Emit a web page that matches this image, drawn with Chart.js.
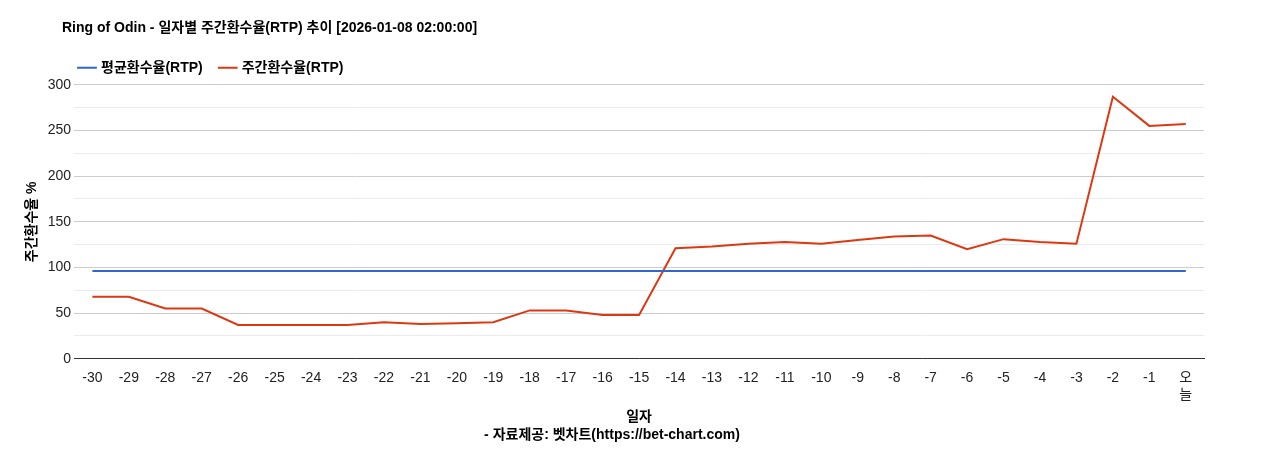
<!DOCTYPE html>
<html>
<head>
<meta charset="utf-8">
<script src="https://cdn.jsdelivr.net/npm/chart.js@4/dist/chart.umd.min.js"></script>
<style>
  html, body { margin: 0; padding: 0; background: #fff; }
  #wrap { width: 1268px; height: 450px; }
</style>
</head>
<body>
<div id="wrap"><canvas id="rtpChart"></canvas></div>
<script>
const dayLabels = ['-30','-29','-28','-27','-26','-25','-24','-23','-22','-21','-20','-19','-18','-17','-16','-15','-14','-13','-12','-11','-10','-9','-8','-7','-6','-5','-4','-3','-2','-1',['오','늘']];
const weeklyRtp = [68,68,55,55,37,37,37,37,40,38,39,40,53,53,48,48,121,123,126,128,126,130,134,135,120,131,128,126,287,255,257];
const avgRtp = dayLabels.map(() => 96);

const FONT = "'Liberation Sans', Arial, 'Noto Sans CJK KR', sans-serif";
Chart.defaults.font.family = FONT;
Chart.defaults.color = '#222';

// shift title and legend to line up with the plot's left edge
const alignHeader = {
    id: 'alignHeader',
    afterLayout(chart) {
        const dx = 42;
        [chart.titleBlock, chart.legend].forEach(b => { if (b) { b.left += dx; b.right += dx; } });
    }
};

const ctx = document.getElementById('rtpChart').getContext('2d');
new Chart(ctx, {
    type: 'line',
    data: {
        labels: dayLabels,
        datasets: [
            { label: '평균환수율(RTP)', data: avgRtp, borderColor: '#3366cc', backgroundColor: '#3366cc', borderWidth: 2, pointRadius: 0, tension: 0 },
            { label: '주간환수율(RTP)', data: weeklyRtp, borderColor: '#dc3912', backgroundColor: '#dc3912', borderWidth: 2, pointRadius: 0, tension: 0 }
        ]
    },
    options: {
        responsive: true,
        maintainAspectRatio: false,
        animation: false,
        layout: { padding: { left: 20, right: 64, top: 12, bottom: 0 } },
        plugins: {
            title: { display: true, text: 'Ring of Odin - 일자별 주간환수율(RTP) 추이 [2026-01-08 02:00:00]', align: 'start', font: { size: 14, weight: 'bold' }, color: '#000', padding: { top: 8, bottom: 6 } },
            subtitle: { display: true, position: 'bottom', text: '- 자료제공: 벳차트(https://bet-chart.com)', font: { size: 14, weight: 'bold' }, color: '#000', padding: { top: 0, bottom: 6 } },
            legend: { align: 'start', labels: { usePointStyle: true, pointStyle: 'line', boxWidth: 30, font: { size: 14, weight: 'bold' }, color: '#000', padding: 18 } },
            tooltip: { enabled: false }
        },
        scales: {
            x: {
                offset: true,
                grid: { display: false },
                border: { color: '#333' },
                ticks: { font: { size: 14 }, color: '#222', maxRotation: 0, autoSkip: false },
                title: { display: true, text: '일자', font: { size: 14, weight: 'bold' }, color: '#000', padding: { top: 2, bottom: 2 } }
            },
            y: {
                min: 0, max: 300,
                ticks: { stepSize: 25, font: { size: 14 }, color: '#222', callback: v => v % 50 === 0 ? v : '' },
                grid: { color: c => c.tick.value % 50 === 0 ? '#cccccc' : '#ebebeb', drawTicks: false },
                border: { display: false },
                title: { display: true, text: '주간환수율 %', font: { size: 14, weight: 'bold' }, color: '#000' }
            }
        }
    },
    plugins: [alignHeader]
});
</script>
</body>
</html>
